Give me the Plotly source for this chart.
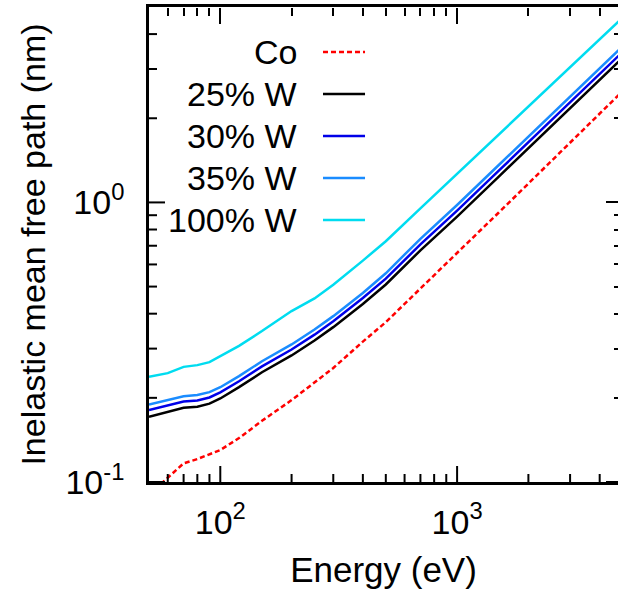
import numpy as np
import plotly.graph_objects as go

# ---- data ----
energy = [50, 60, 70, 80, 90, 100, 120, 150, 200, 250, 300, 400, 500, 700,
          1000, 1500, 2000, 3000, 5000]

imfp_co = [0.090, 0.1034, 0.1166, 0.1208, 0.1259, 0.1301, 0.1436, 0.1655, 0.1963,
           0.2261, 0.2557, 0.3178, 0.3730, 0.4921, 0.6570, 0.9204, 1.168, 1.637, 2.501]
imfp_w25 = [0.1711, 0.1778, 0.1842, 0.1860, 0.1907, 0.1990, 0.2184, 0.2469, 0.2836,
            0.3205, 0.3580, 0.4334, 0.5086, 0.6738, 0.8898, 1.237, 1.563, 2.174, 3.289]
imfp_w30 = [0.1809, 0.1876, 0.1940, 0.1957, 0.2006, 0.2091, 0.2293, 0.2592, 0.2978,
            0.3365, 0.3759, 0.4551, 0.5340, 0.7075, 0.9343, 1.299, 1.641, 2.283, 3.453]
imfp_w35 = [0.1894, 0.1963, 0.2026, 0.2046, 0.2096, 0.2183, 0.2391, 0.2704, 0.3105,
            0.3509, 0.3920, 0.4746, 0.5579, 0.7412, 0.9788, 1.361, 1.719, 2.391, 3.618]
imfp_w100 = [0.2377, 0.2451, 0.2581, 0.2618, 0.2683, 0.2818, 0.3070, 0.3467, 0.4088,
             0.4536, 0.5074, 0.6193, 0.7263, 0.9519, 1.265, 1.750, 2.200, 3.045, 4.579]

series_names = ["Co", "25% W", "30% W", "35% W", "100% W"]
series_values = [imfp_co, imfp_w25, imfp_w30, imfp_w35, imfp_w100]
series_colors = ["#ff0000", "#000000", "#0000e8", "#1a8cff", "#00dcf0"]
series_dash = ["5px,3px", "solid", "solid", "solid", "solid"]

x_tickvals = [100, 1000]
x_ticktext = ["10<sup>2</sup>", "10<sup>3</sup>"]
y_tickvals = [0.1, 1]
y_ticktext = ["10<sup>-1</sup>", "10<sup>0</sup>"]
x_minor = [60, 70, 80, 90, 200, 300, 400, 500, 600, 700, 800, 900, 2000, 3000, 4000]
y_minor = [0.2, 0.3, 0.4, 0.5, 0.6, 0.7, 0.8, 0.9, 2, 3, 4]

x_range = [np.log10(50), np.log10(4780)]
y_range = [np.log10(0.1), np.log10(5.0)]

FONT = "Liberation Sans, Arial, Helvetica, sans-serif"
FS = 34
LW = 2.5

W, H = 618, 593
M = dict(l=149, r=0, t=7, b=111)
plot_w = W - M["l"] - M["r"]
plot_h = H - M["t"] - M["b"]

fig = go.Figure()
for name, vals, col, dash in zip(series_names, series_values, series_colors, series_dash):
    fig.add_trace(go.Scatter(x=energy, y=vals, mode="lines", name=name,
                             line=dict(color=col, width=LW, dash=dash),
                             showlegend=False))

# inward tick marks for the bottom and left axes (from the tick lists)
x_per_px = (x_range[1] - x_range[0]) / plot_w
y_per_px = (y_range[1] - y_range[0]) / plot_h
bx, by = [], []
for vals, length in [(x_tickvals, 16), (x_minor, 8)]:
    for v in vals:
        bx += [v, v, None]
        by += [10 ** y_range[0], 10 ** (y_range[0] + length * y_per_px), None]
lx, ly = [], []
for vals, length in [(y_tickvals, 16), (y_minor, 8)]:
    for v in vals:
        lx += [10 ** x_range[0], 10 ** (x_range[0] + length * x_per_px), None]
        ly += [v, v, None]
for tx, ty in [(bx, by), (lx, ly)]:
    fig.add_trace(go.Scatter(x=tx, y=ty, mode="lines", showlegend=False,
                             hoverinfo="skip", connectgaps=False,
                             line=dict(color="black", width=2)))

# empty helper traces so the tick-only overlay axes (top, right) exist
for xa, ya in [("x3", "y"), ("x", "y3")]:
    fig.add_trace(go.Scatter(x=[], y=[], xaxis=xa, yaxis=ya, mode="lines",
                             showlegend=False, hoverinfo="skip"))

# legend drawn gnuplot-style (text right-aligned, sample to the right)
leg_text_x = 0.3198
leg_line_x0, leg_line_x1 = 0.371, 0.4606
leg_y0, leg_dy = 0.9053, 0.0884
for i, (name, col, dash) in enumerate(zip(series_names, series_colors, series_dash)):
    yy = leg_y0 - i * leg_dy
    fig.add_annotation(x=leg_text_x, y=yy, xref="paper", yref="paper", text=name,
                       showarrow=False, xanchor="right", yanchor="middle",
                       font=dict(family=FONT, size=FS, color="black"))
    fig.add_shape(type="line", xref="paper", yref="paper",
                  x0=leg_line_x0, x1=leg_line_x1, y0=yy, y1=yy,
                  line=dict(color=col, width=LW, dash=dash))

main_common = dict(
    showgrid=False, zeroline=False, ticks="", automargin=False,
    linecolor="black", linewidth=2.5, showline=True,
    tickfont=dict(family=FONT, size=FS, color="black"),
)


def tick_axis(rng, vals, minor_vals, side, pos, length, minor_len, overlay):
    # label-free overlay axis whose "outside" ticks point into the plot area
    return dict(type="log", range=rng, overlaying=overlay, side=side, anchor="free",
                position=pos, showline=False, showgrid=False, zeroline=False,
                showticklabels=False, automargin=False,
                ticks="outside", ticklen=length, tickwidth=2, tickcolor="black",
                tickmode="array", tickvals=vals,
                minor=dict(ticks="outside", ticklen=minor_len, tickwidth=2,
                           tickcolor="black", tickvals=minor_vals))


fig.update_layout(
    template="none",
    width=W, height=H,
    margin=M,
    paper_bgcolor="white", plot_bgcolor="white",
    font=dict(family=FONT, size=FS, color="black"),
    showlegend=False,
    xaxis=dict(type="log", range=x_range, mirror=True,
               tickmode="array", tickvals=x_tickvals, ticktext=x_ticktext,
               ticklabelstandoff=8,
               title=dict(text="Energy (eV)", font=dict(family=FONT, size=35),
                          standoff=18),
               **main_common),
    yaxis=dict(type="log", range=y_range, mirror=False,
               tickmode="array", tickvals=y_tickvals, ticktext=y_ticktext,
               ticklabelstandoff=15,
               title=dict(text="Inelastic mean free path (nm)",
                          font=dict(family=FONT, size=FS), standoff=10),
               **main_common),
    xaxis3=tick_axis(x_range, x_tickvals, x_minor, "bottom", 1, 16, 8, "x"),
    yaxis3=tick_axis(y_range, y_tickvals, y_minor, "left", 1, 12, 4, "y"),
)

fig.write_html("out.html")
